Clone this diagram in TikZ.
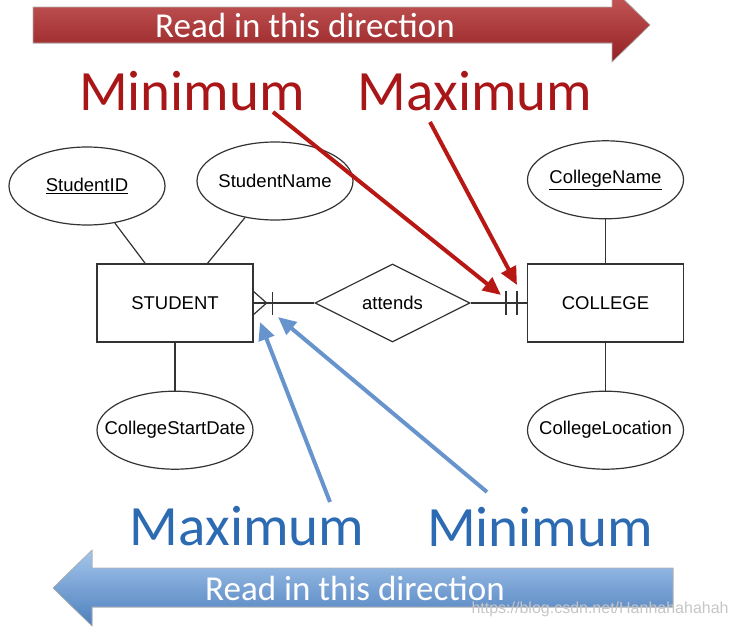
\documentclass[tikz,border=0pt]{standalone}
\usepackage{fontspec}
\setmainfont{Liberation Sans}
\newfontfamily\calibri{Carlito}
\usetikzlibrary{
  arrows.meta,
  calc,
  positioning,
  shapes.geometric,
}

\definecolor{minmaxred}{RGB}{168,22,24}
\definecolor{minmaxblue}{RGB}{44,106,178}
\definecolor{redtop}{RGB}{200,92,92}
\definecolor{redbot}{RGB}{148,32,34}
\definecolor{bluetop}{RGB}{164,198,236}
\definecolor{bluebot}{RGB}{76,126,188}
\definecolor{redptr}{RGB}{184,24,20}
\definecolor{blueptr}{RGB}{104,148,206}

\newcommand{\attrlabel}[1]{\makebox[0pt]{#1}}

\begin{document}
\begin{tikzpicture}[x=1pt, y=-1pt,
  er/.style={draw=black!80, line width=1.2pt},
  attr/.style={er, ellipse, inner sep=0pt, minimum width=156pt, minimum height=78pt,
    font=\fontsize{18.5}{20}\selectfont},
  entity/.style={er, rectangle, inner sep=0pt, minimum width=156pt, minimum height=78pt,
    font=\fontsize{18.5}{20}\selectfont},
  relation/.style={er, diamond, inner sep=0pt, minimum width=155pt, minimum height=78pt,
    font=\fontsize{18.5}{20}\selectfont},
  bigword/.style={anchor=base, font=\calibri\fontsize{57}{60}\selectfont},
  readword/.style={anchor=base, text=white, font=\calibri\fontsize{35}{38}\selectfont},
  pointer/.style={line width=4pt, -{Triangle[length=18pt, width=16pt]}},
]
\useasboundingbox (0,0) rectangle (732,627);

\fill[top color=redtop, bottom color=redbot, draw=black!30, line width=0.6pt]
  (33,7) -- (612,7) -- (612,-12) -- (650,25) -- (612,62) -- (612,43) -- (33,43) -- cycle;
\node[readword] (rtop) at (305,37) {Read in this direction};

\fill[top color=bluetop, bottom color=bluebot, draw=black!30, line width=0.6pt]
  (673,568) -- (92,568) -- (92,550) -- (53,588) -- (92,626) -- (92,607) -- (673,607) -- cycle;
\node[readword] (rbot) at (355,600) {Read in this direction};

\node[bigword, text=minmaxred] (minr) at (192,110) {Minimum};
\node[bigword, text=minmaxred] (maxr) at (475,110) {Maximum};
\node[bigword, text=minmaxblue] (maxb) at (247,545) {Maximum};
\node[bigword, text=minmaxblue] (minb) at (540,546) {Minimum};

\node[entity] (stud) at (175,303) {STUDENT};
\node[relation] (att) at (392.5,303) {attends};
\node[entity] (coll) at (605.5,303) {COLLEGE};

\node[attr] (sid) at (87,186) {\attrlabel{\underline{StudentID}}};
\node[attr] (sname) at (275,181) {\attrlabel{StudentName}};
\node[attr, below=48pt of stud] (sdate) {\attrlabel{CollegeStartDate}};
\node[attr, above=44pt of coll] (cname) {\attrlabel{\underline{CollegeName}}};
\node[attr, below=48pt of coll] (cloc) {\attrlabel{CollegeLocation}};

\draw[er] (sid) -- (stud);
\draw[er] (sname) -- (stud);
\draw[er] (stud) -- (sdate);
\draw[er] (coll) -- (cname);
\draw[er] (coll) -- (cloc);

\draw[er] (stud) -- (att);
\draw[er] (att) -- (coll);
\draw[er] ($(stud.east) + (0,-11.5)$) -- ($(stud.east) + (13,0)$) -- ($(stud.east) + (0,11.5)$);
\draw[er] ($(stud.east) + (19,-11.5)$) -- ($(stud.east) + (19,11.5)$);
\draw[er] ($(coll.west) + (-21,-12)$) -- ($(coll.west) + (-21,12)$);
\draw[er] ($(coll.west) + (-10,-12)$) -- ($(coll.west) + (-10,12)$);

\coordinate (minr-s) at (273,112);
\coordinate (minr-t) at (501,295);
\coordinate (maxr-s) at (430,122);
\coordinate (maxr-t) at (517,285);
\draw[pointer, redptr] (minr-s) -- (minr-t);
\draw[pointer, redptr] (maxr-s) -- (maxr-t);

\coordinate (maxb-s) at (330,502);
\coordinate (maxb-t) at (260,322);
\coordinate (minb-s) at (487,492);
\coordinate (minb-t) at (278,317);
\draw[pointer, blueptr] (maxb-s) -- (maxb-t);
\draw[pointer, blueptr] (minb-s) -- (minb-t);

\node[anchor=base west, text=gray!45, font=\fontsize{16}{16}\selectfont] (wm) at (468,613)
  {https://blog.csdn.net/Hanhahahahah};
\end{tikzpicture}
\end{document}
